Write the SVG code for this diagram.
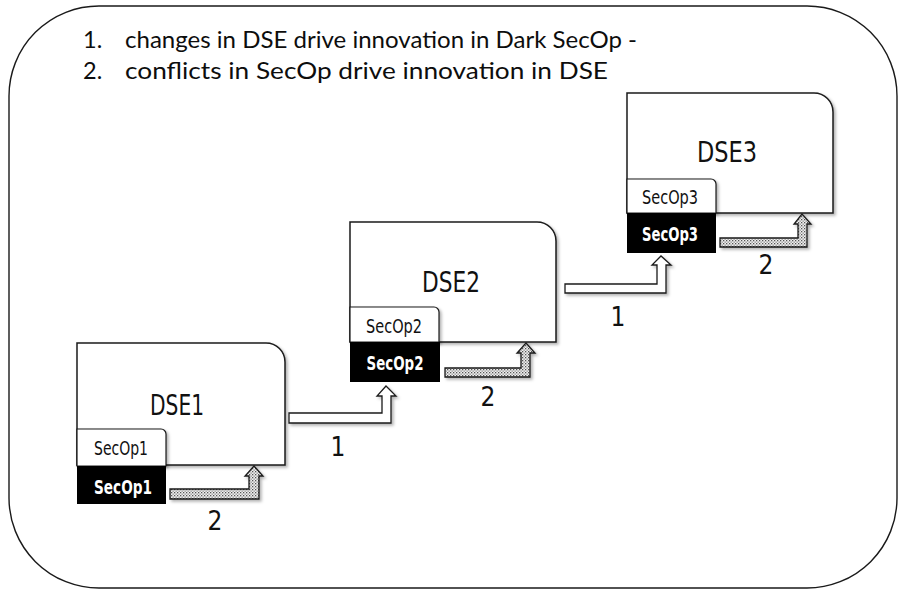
<svg xmlns="http://www.w3.org/2000/svg" width="902" height="592" viewBox="0 0 902 592">
  <style>
    .frame { fill: #ffffff; stroke: #1a1a1a; stroke-width: 1.4; }
    .box { fill: #ffffff; stroke: #1a1a1a; stroke-width: 1.5; }
    .tab { fill: #ffffff; stroke: #1a1a1a; stroke-width: 1.2; }
    .dark { fill: #000000; }
    .title { font-family: Lato, "Open Sans", "Liberation Sans", sans-serif; font-size: 23.5px; fill: #0d0d0d; }
    .big { font-family: "Liberation Sans Narrow", "DejaVu Sans Condensed", "Liberation Sans", sans-serif; font-size: 29px; fill: #111111; text-anchor: middle; }
    .sec { font-family: "Liberation Sans Narrow", "DejaVu Sans Condensed", "Liberation Sans", sans-serif; font-size: 19px; fill: #111111; text-anchor: middle; }
    .secw { font-family: "Liberation Sans Narrow", "DejaVu Sans Condensed", "Liberation Sans", sans-serif; font-size: 19px; font-weight: 600; fill: #ffffff; text-anchor: middle; }
    .num { font-family: "Liberation Sans Narrow", "DejaVu Sans Condensed", "Liberation Sans", sans-serif; font-size: 26px; fill: #111111; text-anchor: middle; }
    .up { fill: #ffffff; stroke: #1a1a1a; stroke-width: 1.3; stroke-linejoin: miter; }
    .back { fill: url(#stipple); stroke: #1a1a1a; stroke-width: 1.3; stroke-linejoin: miter; }
  </style>
  <defs>
    <pattern id="stipple" width="3" height="3" patternUnits="userSpaceOnUse">
      <rect width="3" height="3" fill="#f0f0f0"/>
      <rect x="0" y="0" width="1.3" height="1.3" fill="#555555"/>
      <rect x="1.5" y="1.5" width="1.3" height="1.3" fill="#888888"/>
    </pattern>
    <filter id="shade" x="-10%" y="-10%" width="130%" height="130%">
      <feDropShadow dx="2" dy="2" stdDeviation="1.5" flood-color="#000000" flood-opacity="0.3"/>
    </filter>
  </defs>

  <!-- outer rounded frame -->
  <rect class="frame" x="9" y="6" width="888" height="582" rx="90" ry="90"/>

  <!-- legend -->
  <g id="legend">
    <text class="title" x="83" y="48">1.</text>
    <text class="title" x="125" y="48" textLength="512" lengthAdjust="spacingAndGlyphs">changes in DSE drive innovation in Dark SecOp -</text>
    <text class="title" x="83" y="79">2.</text>
    <text class="title" x="125" y="79" textLength="483" lengthAdjust="spacingAndGlyphs">conflicts in SecOp drive innovation in DSE</text>
  </g>

  <!-- DSE1 -->
  <g id="dse1">
    <path class="box" filter="url(#shade)" d="M77,343 H266 A19,19 0 0 1 285,362 V465 H77 Z"/>
    <text class="big" x="177" y="415" textLength="54" lengthAdjust="spacingAndGlyphs">DSE1</text>
    <path class="tab" filter="url(#shade)" d="M77,429 H161 A5,5 0 0 1 166,434 V466 H77 Z"/>
    <text class="sec" x="121" y="455" textLength="54" lengthAdjust="spacingAndGlyphs">SecOp1</text>
    <rect class="dark" x="77" y="466" width="89" height="38"/>
    <text class="secw" x="123" y="494" textLength="58" lengthAdjust="spacingAndGlyphs">SecOp1</text>
  </g>

  <!-- DSE2 -->
  <g id="dse2">
    <path class="box" filter="url(#shade)" d="M350,222 H537 A19,19 0 0 1 556,241 V342 H350 Z"/>
    <text class="big" x="451" y="292" textLength="58" lengthAdjust="spacingAndGlyphs">DSE2</text>
    <path class="tab" filter="url(#shade)" d="M350,307 H434 A5,5 0 0 1 439,312 V342 H350 Z"/>
    <text class="sec" x="394" y="333" textLength="56" lengthAdjust="spacingAndGlyphs">SecOp2</text>
    <rect class="dark" x="350" y="342" width="90" height="40"/>
    <text class="secw" x="395" y="370" textLength="57" lengthAdjust="spacingAndGlyphs">SecOp2</text>
  </g>

  <!-- DSE3 -->
  <g id="dse3">
    <path class="box" filter="url(#shade)" d="M627,93 H814 A19,19 0 0 1 833,112 V213 H627 Z"/>
    <text class="big" x="727" y="162" textLength="60" lengthAdjust="spacingAndGlyphs">DSE3</text>
    <path class="tab" filter="url(#shade)" d="M627,179 H711 A5,5 0 0 1 716,184 V213 H627 Z"/>
    <text class="sec" x="670" y="204" textLength="56" lengthAdjust="spacingAndGlyphs">SecOp3</text>
    <rect class="dark" x="627" y="213" width="89" height="40"/>
    <text class="secw" x="670" y="241" textLength="56" lengthAdjust="spacingAndGlyphs">SecOp3</text>
  </g>

  <!-- connectors -->
  <g id="connectors">
    <!-- step-up arrows (1) -->
    <path class="up" filter="url(#shade)" d="M289,413 H382 V396 H377 L386,386 L396,396 H391 V423 H289 Z"/>
    <path class="up" filter="url(#shade)" d="M565,284 H657 V265 H652 L661,256 L671,265 H666 V293 H565 Z"/>
    <!-- stippled feedback arrows (2) -->
    <path class="back" filter="url(#shade)" d="M170,489 H249 V476 H245 L254,466 L263,476 H259 V499 H170 Z"/>
    <path class="back" filter="url(#shade)" d="M445,368 H521 V353 H517 L526,343 L535,353 H530 V377 H445 Z"/>
    <path class="back" filter="url(#shade)" d="M720,238 H798 V224 H794 L802,214 L811,224 H807 V247 H720 Z"/>
    <!-- arrow labels -->
    <text class="num" x="338" y="456">1</text>
    <text class="num" x="618" y="326">1</text>
    <text class="num" x="215" y="530">2</text>
    <text class="num" x="488" y="406">2</text>
    <text class="num" x="766" y="274">2</text>
  </g>
</svg>
